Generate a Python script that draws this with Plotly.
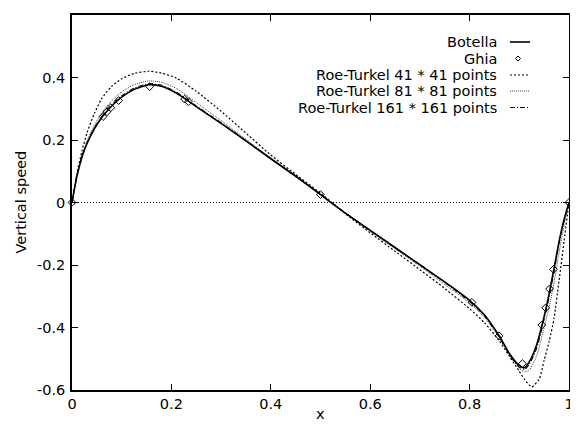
import plotly.graph_objects as go

# ---------------- data ----------------
x_grid = [0.0, 0.01, 0.02, 0.03, 0.045, 0.06, 0.08, 0.1, 0.125, 0.155, 0.18, 0.21,
          0.25, 0.3, 0.35, 0.4, 0.45, 0.5, 0.55, 0.6, 0.65, 0.7, 0.75, 0.8, 0.83,
          0.86, 0.88, 0.9, 0.91, 0.92, 0.935, 0.95, 0.96, 0.97, 0.98, 0.99, 1.0]

botella_v = [0.0, 0.085, 0.145, 0.188, 0.236, 0.272, 0.309, 0.337, 0.362, 0.377, 0.372, 0.350,
             0.307, 0.253, 0.197, 0.140, 0.084, 0.025, -0.034, -0.089, -0.144, -0.199, -0.254, -0.313, -0.360,
             -0.428, -0.483, -0.522, -0.529, -0.510, -0.455, -0.365, -0.292, -0.210, -0.125, -0.055, 0.0]

rt81_v = [0.0, 0.087, 0.150, 0.196, 0.248, 0.287, 0.326, 0.354, 0.377, 0.389, 0.385, 0.365,
          0.320, 0.262, 0.202, 0.143, 0.086, 0.027, -0.034, -0.092, -0.148, -0.204, -0.262, -0.322, -0.368,
          -0.433, -0.488, -0.530, -0.542, -0.537, -0.490, -0.400, -0.335, -0.255, -0.160, -0.075, 0.0]

rt161_v = [0.0, 0.086, 0.147, 0.190, 0.239, 0.276, 0.313, 0.341, 0.366, 0.380, 0.375, 0.353,
           0.309, 0.255, 0.198, 0.141, 0.085, 0.026, -0.033, -0.090, -0.145, -0.200, -0.256, -0.317, -0.363,
           -0.431, -0.487, -0.527, -0.535, -0.518, -0.466, -0.372, -0.303, -0.220, -0.132, -0.058, 0.0]

rt41_x = [0.0, 0.01, 0.02, 0.03, 0.045, 0.06, 0.08, 0.1, 0.125, 0.155, 0.18, 0.21,
          0.25, 0.3, 0.35, 0.4, 0.45, 0.5, 0.55, 0.6, 0.65, 0.7, 0.75, 0.8, 0.83,
          0.86, 0.88, 0.9, 0.91, 0.925, 0.94, 0.95, 0.96, 0.97, 0.98, 0.99, 1.0]
rt41_v = [0.0, 0.092, 0.165, 0.222, 0.285, 0.333, 0.372, 0.396, 0.413, 0.420, 0.414, 0.398,
          0.356, 0.292, 0.222, 0.152, 0.090, 0.030, -0.036, -0.097, -0.156, -0.215, -0.275, -0.340, -0.385,
          -0.443, -0.492, -0.540, -0.565, -0.590, -0.565, -0.505, -0.445, -0.370, -0.250, -0.125, 0.0]

ghia_x = [1.0, 0.9688, 0.9609, 0.9531, 0.9453, 0.9063, 0.8594, 0.8047, 0.5, 0.2344,
          0.2266, 0.1563, 0.0938, 0.0781, 0.0703, 0.0625, 0.0]
ghia_v = [0.0, -0.21388, -0.27669, -0.33714, -0.39188, -0.5155, -0.42665, -0.31966, 0.02526,
          0.32235, 0.33075, 0.37095, 0.32627, 0.30353, 0.29012, 0.27485, 0.0]

x_ticks = [0, 0.2, 0.4, 0.6, 0.8, 1]
x_ticktext = ["0", "0.2", "0.4", "0.6", "0.8", "1"]
y_ticks = [-0.6, -0.4, -0.2, 0, 0.2, 0.4, 0.6]
y_ticktext = ["-0.6", "-0.4", "-0.2", "0", "0.2", "0.4", "0.6"]

legend_names = ["Botella", "Ghia", "Roe-Turkel 41 * 41 points",
                "Roe-Turkel 81 * 81 points", "Roe-Turkel 161 * 161 points"]

# ---------------- figure ----------------
FONT = "DejaVu Sans, Liberation Sans, Arial, sans-serif"
FS = 14.5
fig = go.Figure()

spl = dict(shape="spline", smoothing=0.6)
st41 = dict(color="black", width=1.2, dash="2px,2px")
st81 = dict(color="#444444", width=1.0, dash="1px,1px")
st161 = dict(color="black", width=1.1, dash="5px,2px,1px,2px")
stbot = dict(color="black", width=1.6)

fig.add_trace(go.Scatter(x=rt41_x, y=rt41_v, mode="lines", line=dict(**st41, **spl)))
fig.add_trace(go.Scatter(x=x_grid, y=rt81_v, mode="lines", line=dict(**st81, **spl)))
fig.add_trace(go.Scatter(x=x_grid, y=rt161_v, mode="lines", line=dict(**st161, **spl)))
fig.add_trace(go.Scatter(x=x_grid, y=botella_v, mode="lines", line=dict(**stbot, **spl)))
fig.add_trace(go.Scatter(x=ghia_x, y=ghia_v, mode="markers", cliponaxis=False,
                         marker=dict(symbol="diamond-open", size=6, color="black",
                                     line=dict(color="black", width=1))))

# zero axis (dotted)
fig.add_shape(type="line", xref="x", yref="y", x0=0, x1=1, y0=0, y1=0,
              line=dict(color="black", width=1, dash="1px,2px"), layer="below")

# page offset of the figure (browser default body margin)
OFF = 8
PAGE_W, PAGE_H = 578, 430
# plot area in page pixels
L, R, T, B = 72, 569, 15, 390
W, H = R - L, B - T
def px(xp): return (xp - L) / W
def py(yp): return (B - yp) / H

# ---- manual gnuplot-style legend (text right, sample after) ----
rows = [42, 58.5, 75, 91, 107.5]
text_right = 499
s0, s1 = 510, 530
for name, yy in zip(legend_names, rows):
    fig.add_annotation(x=px(text_right), y=py(yy), xref="paper", yref="paper",
                       text=name, showarrow=False, xanchor="right", yanchor="middle",
                       font=dict(family=FONT, size=FS, color="black"))
styles = [stbot, None, st41, st81, st161]
for st, yy in zip(styles, rows):
    if st is None:
        cx, cy, d = 518, yy, 2.5
        fig.add_shape(type="path", xref="paper", yref="paper",
                      path=f"M {px(cx)} {py(cy-d)} L {px(cx+d)} {py(cy)} L {px(cx)} {py(cy+d)} L {px(cx-d)} {py(cy)} Z",
                      line=dict(color="black", width=1))
    else:
        fig.add_shape(type="line", xref="paper", yref="paper",
                      x0=px(s0), x1=px(s1), y0=py(yy), y1=py(yy), line=st)

# axis titles
fig.add_annotation(x=0.5, y=py(414), xref="paper", yref="paper", text="x",
                   showarrow=False, xanchor="center", yanchor="middle",
                   font=dict(family=FONT, size=FS, color="black"))
fig.add_annotation(x=px(20), y=0.5, xref="paper", yref="paper", text="Vertical speed",
                   showarrow=False, textangle=-90, xanchor="center", yanchor="middle",
                   font=dict(family=FONT, size=FS, color="black"))

axis_common = dict(showline=True, linecolor="black", linewidth=1.6, mirror="ticks",
                   ticks="inside", ticklen=6, tickcolor="black", tickwidth=1,
                   showgrid=False, zeroline=False, automargin=False,
                   tickfont=dict(family=FONT, size=FS, color="black"))
fig.update_xaxes(range=[0, 1], tickvals=x_ticks, ticktext=x_ticktext, **axis_common)
fig.update_yaxes(range=[-0.6, 0.6], tickvals=y_ticks, ticktext=y_ticktext,
                 ticklabelstandoff=2, **axis_common)

fig.update_layout(width=PAGE_W - OFF, height=PAGE_H - OFF, showlegend=False,
                  margin=dict(l=L - OFF, r=PAGE_W - R, t=T - OFF, b=PAGE_H - B, autoexpand=False),
                  plot_bgcolor="white", paper_bgcolor="white",
                  font=dict(family=FONT, color="black"))

fig.write_html("out.html")
